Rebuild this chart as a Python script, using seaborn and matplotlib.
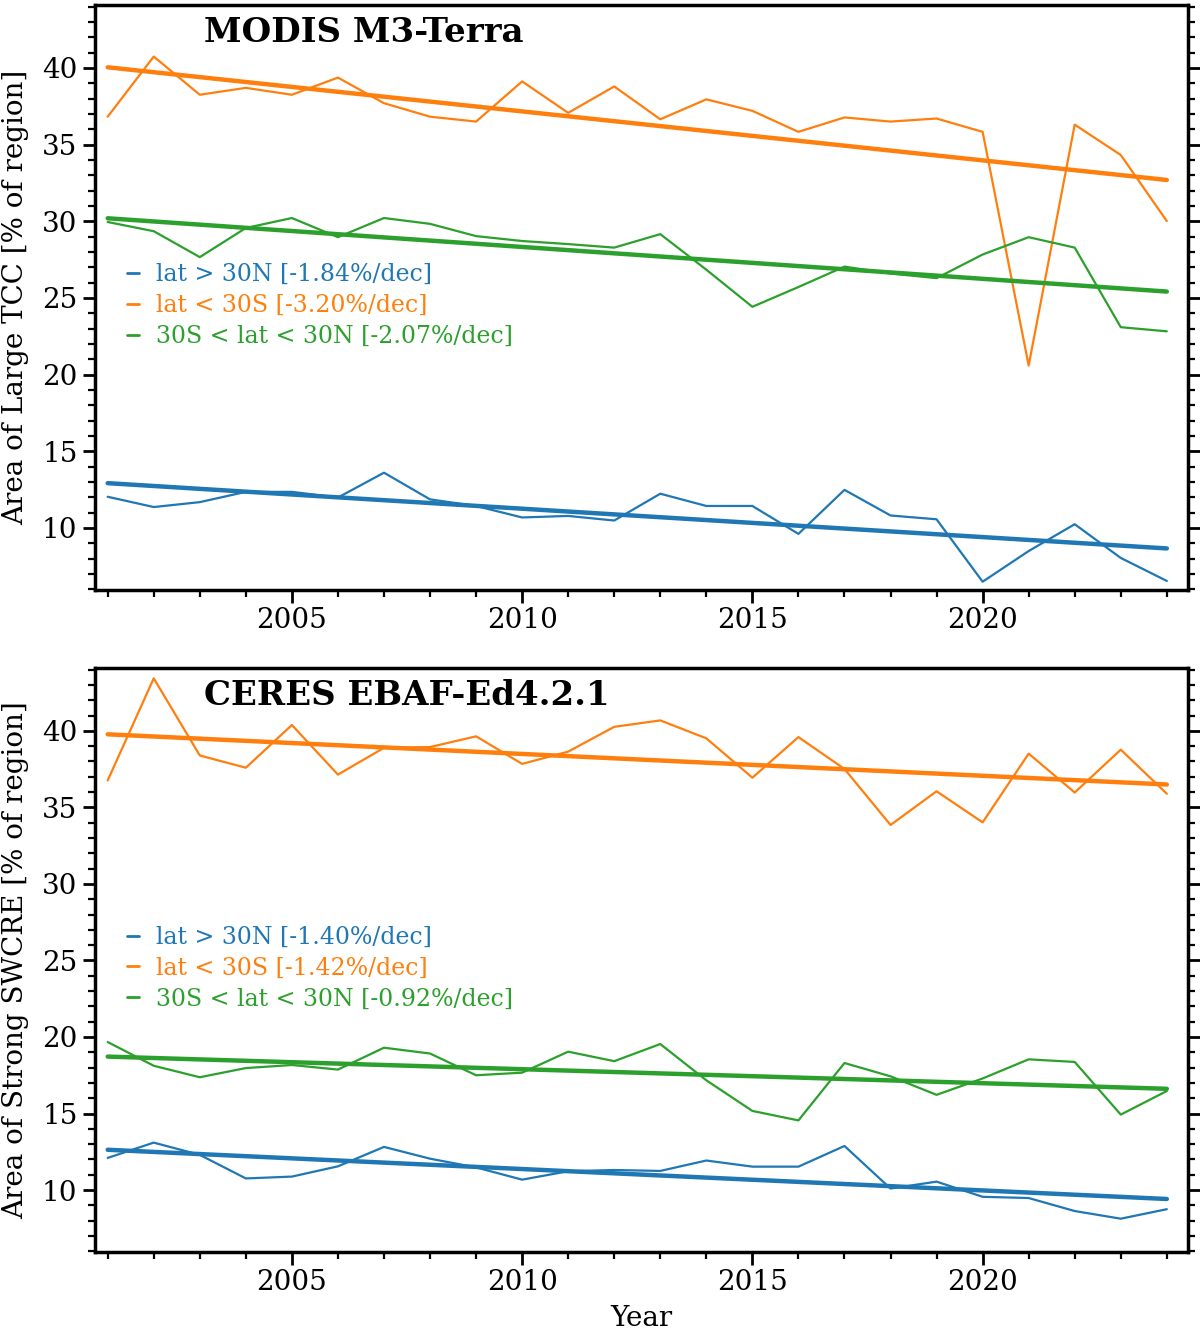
import numpy as np
import pandas as pd
import matplotlib
matplotlib.use("Agg")
import matplotlib.pyplot as plt
from matplotlib.ticker import MultipleLocator
import seaborn as sns

# years covered by both panels
years = list(range(2001, 2025))

# MODIS M3-Terra, area of large TCC [% of region]
modis_nh = [12.03, 11.36, 11.68, 12.35, 12.35, 11.98, 13.60, 11.86, 11.43, 10.68, 10.78, 10.48,
            12.23, 11.43, 11.43, 9.61, 12.48, 10.81, 10.56, 6.49, 8.49, 10.24, 8.04, 6.54]
modis_sh = [36.82, 40.74, 38.25, 38.70, 38.25, 39.37, 37.70, 36.82, 36.50, 39.12, 37.07, 38.79,
            36.65, 37.95, 37.20, 35.83, 36.77, 36.50, 36.70, 35.83, 20.59, 36.30, 34.32, 30.01]
modis_tr = [29.95, 29.35, 27.66, 29.56, 30.21, 28.96, 30.21, 29.83, 29.03, 28.71, 28.51, 28.28,
            29.16, 26.84, 24.42, 25.71, 27.04, 26.59, 26.29, 27.83, 28.96, 28.28, 23.09, 22.82]
modis_labels = ["lat > 30N [-1.84%/dec]", "lat < 30S [-3.20%/dec]", "30S < lat < 30N [-2.07%/dec]"]

# CERES EBAF-Ed4.2.1, area of strong SWCRE [% of region]
ceres_nh = [12.10, 13.10, 12.30, 10.76, 10.88, 11.55, 12.82, 12.05, 11.48, 10.68, 11.23, 11.31,
            11.25, 11.93, 11.53, 11.53, 12.88, 10.10, 10.55, 9.56, 9.48, 8.63, 8.13, 8.75]
ceres_sh = [36.76, 43.43, 38.39, 37.59, 40.38, 37.14, 38.89, 38.94, 39.64, 37.84, 38.64, 40.26,
            40.68, 39.51, 36.94, 39.59, 37.51, 33.85, 36.05, 34.02, 38.51, 35.97, 38.77, 35.89]
ceres_tr = [19.67, 18.12, 17.37, 17.97, 18.17, 17.87, 19.30, 18.92, 17.50, 17.67, 19.04, 18.42,
            19.54, 17.17, 15.17, 14.55, 18.30, 17.43, 16.22, 17.29, 18.54, 18.37, 14.93, 16.47]
ceres_labels = ["lat > 30N [-1.40%/dec]", "lat < 30S [-1.42%/dec]", "30S < lat < 30N [-0.92%/dec]"]

colors = ["tab:blue", "tab:orange", "tab:green"]

sns.set_theme(style="ticks")
plt.rcParams["font.family"] = ["DejaVu Serif"]
plt.rcParams["text.color"] = "black"
plt.rcParams["axes.labelcolor"] = "black"
plt.rcParams["axes.edgecolor"] = "black"

panels = [
    ("MODIS M3-Terra", "Area of Large TCC [% of region]", [modis_nh, modis_sh, modis_tr], modis_labels),
    ("CERES EBAF-Ed4.2.1", "Area of Strong SWCRE [% of region]", [ceres_nh, ceres_sh, ceres_tr], ceres_labels),
]

fig = plt.figure(figsize=(12, 13.3), dpi=100)
ax_top = fig.add_axes([0.079, 0.5564, 0.911, 0.4398])
ax_bot = fig.add_axes([0.079, 0.0586, 0.911, 0.4391])

for ax, (title, ylabel, series, labels) in zip([ax_top, ax_bot], panels):
    frames = []
    for vals, lab in zip(series, labels):
        frames.append(pd.DataFrame({"year": years, "value": vals, "region": lab}))
    df = pd.concat(frames, ignore_index=True)

    sns.lineplot(data=df, x="year", y="value", hue="region", hue_order=labels,
                 palette=colors, linewidth=1.6, ax=ax, legend=True)
    # linear trends
    for lab, c in zip(labels, colors):
        sub = df[df["region"] == lab]
        sns.regplot(data=sub, x="year", y="value", scatter=False, ci=None,
                    color=c, line_kws={"linewidth": 3.2}, ax=ax)

    ax.set_xlim(2000.72, 2024.46)
    ax.set_ylim(5.95, 44.1)
    ax.xaxis.set_major_locator(MultipleLocator(5))
    ax.xaxis.set_minor_locator(MultipleLocator(1))
    ax.yaxis.set_major_locator(MultipleLocator(5))
    ax.yaxis.set_minor_locator(MultipleLocator(1))
    ax.tick_params(axis="both", which="both", direction="out", right=True, left=True,
                   bottom=True, top=False, colors="black", labelsize=20)
    ax.tick_params(which="major", length=9, width=2)
    ax.tick_params(which="minor", length=5, width=1.6)
    for sp in ax.spines.values():
        sp.set_linewidth(2.5)
        sp.set_color("black")

    ax.set_ylabel(ylabel, fontsize=20, labelpad=9)
    ax.set_xlabel("")
    ax.text(0.1, 0.953, title, transform=ax.transAxes, ha="left", va="center",
            fontsize=24.5, fontweight="bold", color="black")

    leg = ax.legend(loc="upper left", bbox_to_anchor=(0.01, 0.595), frameon=False,
                    fontsize=17, handlelength=0.5, handletextpad=0.75,
                    labelspacing=0.33, labelcolor="linecolor")
    for h in leg.get_lines():
        h.set_linewidth(2)

ax_bot.set_xlabel("Year", fontsize=20, labelpad=6)

fig.savefig("out.png", dpi=100)
